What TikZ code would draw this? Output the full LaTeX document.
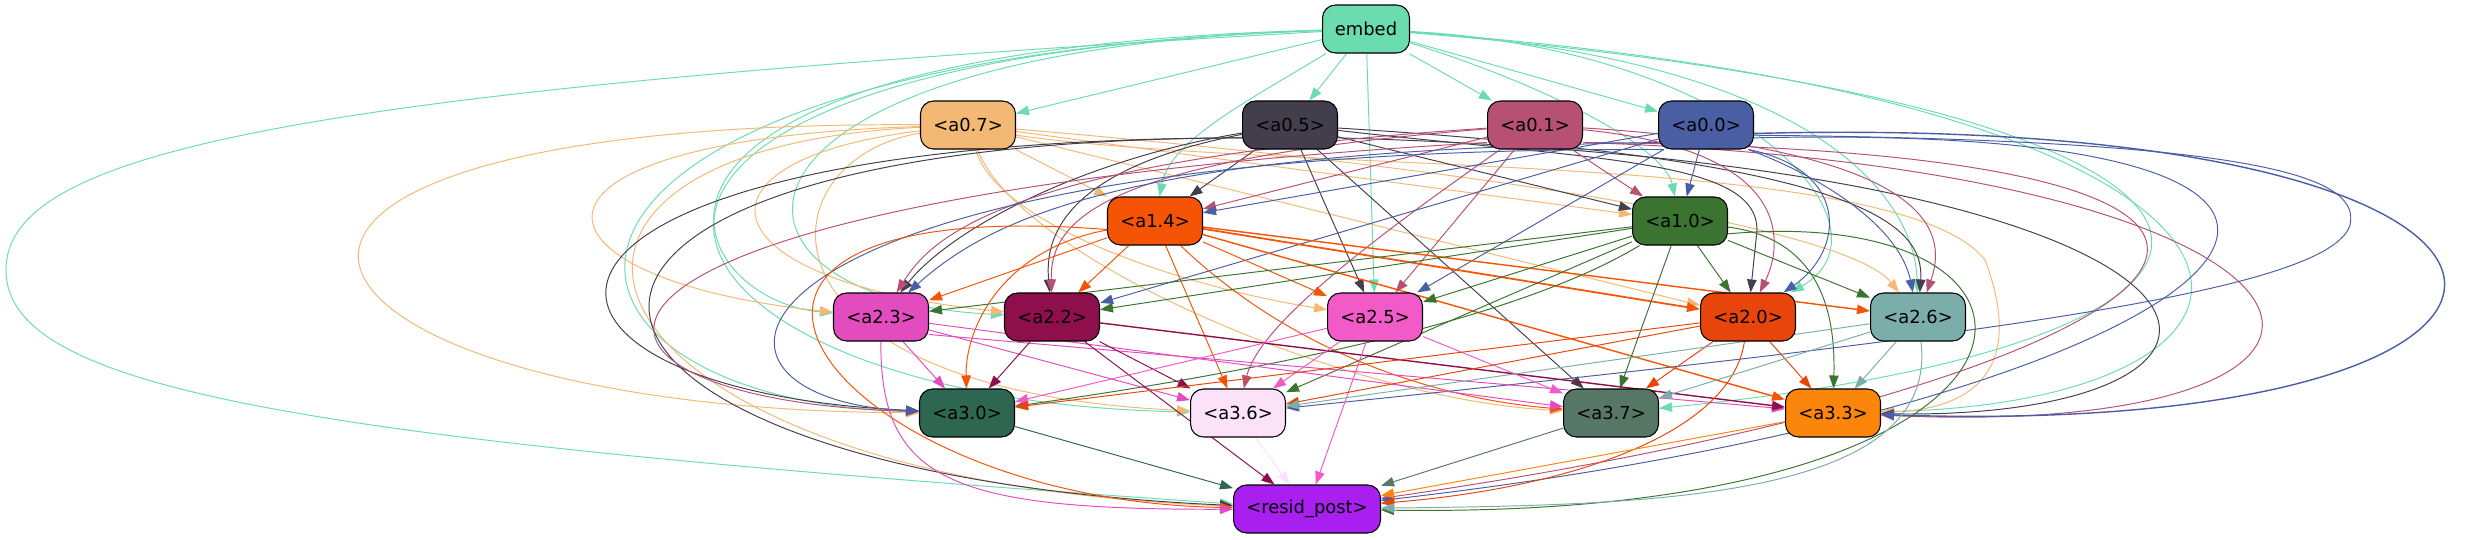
\documentclass[tikz,border=0pt]{standalone}
\usepackage{fontspec}
\setmainfont{DejaVu Sans}
\usetikzlibrary{arrows.meta,backgrounds}
\definecolor{cem}{HTML}{6BDCB0}
\definecolor{c07}{HTML}{F3B874}
\definecolor{c05}{HTML}{433E4C}
\definecolor{c01}{HTML}{B75075}
\definecolor{c00}{HTML}{4A5EA4}
\definecolor{c14}{HTML}{F45404}
\definecolor{c10}{HTML}{3A7430}
\definecolor{c23}{HTML}{E24CBF}
\definecolor{c22}{HTML}{8E0F4C}
\definecolor{c25}{HTML}{F25AC8}
\definecolor{c20}{HTML}{E7450B}
\definecolor{c26}{HTML}{7BAEAA}
\definecolor{c30}{HTML}{2D6651}
\definecolor{c36}{HTML}{FBE2F8}
\definecolor{c37}{HTML}{577766}
\definecolor{c33}{HTML}{FB860B}
\definecolor{cres}{HTML}{A91FF0}

\begin{document}
\begin{tikzpicture}
[x=0.02cm,y=-0.02cm,
>={Triangle[length=0.26cm,width=0.19cm]},
unit/.style={draw=black,line width=0.6pt,rounded corners=0.26cm,minimum width=1.9cm,minimum height=0.96cm,inner sep=0pt,font=\fontsize{10.2}{12}\selectfont},
wire/.style={->,line width=0.55pt},
fromem/.style={wire,draw=cem},
from07/.style={wire,draw=c07},
from05/.style={wire,draw=c05},
from01/.style={wire,draw=c01},
from00/.style={wire,draw=c00},
from14/.style={wire,draw=c14},
from10/.style={wire,draw=c10},
from23/.style={wire,draw=c23},
from22/.style={wire,draw=c22},
from25/.style={wire,draw=c25},
from20/.style={wire,draw=c20},
from26/.style={wire,draw=c26},
from30/.style={wire,draw=c30},
from36/.style={wire,draw=c36},
from37/.style={wire,draw=c37},
from33/.style={wire,draw=c33}]
\useasboundingbox (0,0) rectangle (2480,539);
\node[unit,fill=cem,minimum width=1.74cm] (embed) at (1366,29) {embed};
\node[unit,fill=c07] (a07) at (968,125) {<a0.7>};
\node[unit,fill=c05] (a05) at (1290,125) {<a0.5>};
\node[unit,fill=c01] (a01) at (1535,125) {<a0.1>};
\node[unit,fill=c00] (a00) at (1706,125) {<a0.0>};
\node[unit,fill=c14] (a14) at (1155,221) {<a1.4>};
\node[unit,fill=c10] (a10) at (1680,221) {<a1.0>};
\node[unit,fill=c23] (a23) at (881,317) {<a2.3>};
\node[unit,fill=c22] (a22) at (1052,317) {<a2.2>};
\node[unit,fill=c25] (a25) at (1375,317) {<a2.5>};
\node[unit,fill=c20] (a20) at (1748,317) {<a2.0>};
\node[unit,fill=c26] (a26) at (1918,317) {<a2.6>};
\node[unit,fill=c30] (a30) at (967,413) {<a3.0>};
\node[unit,fill=c36] (a36) at (1238,413) {<a3.6>};
\node[unit,fill=c37] (a37) at (1611,413) {<a3.7>};
\node[unit,fill=c33] (a33) at (1833,413) {<a3.3>};
\node[unit,fill=cres,minimum width=2.94cm] (resid) at (1307,509) {<resid\_post>};

\begin{pgfonlayer}{background}
\fill[white] (0,0) rectangle (2480,539);
\draw[fromem] (embed) -- (a07);
\draw[fromem] (embed) -- (a05);
\draw[fromem] (embed) -- (a01);
\draw[fromem] (embed) -- (a00);
\draw[fromem] (embed) .. controls (1250,100) and (1170,140) .. (a14);
\draw[fromem] (embed) .. controls (1560,90) and (1665,150) .. (a10);
\draw[fromem] (embed) .. controls (550,50) and (680,300) .. (a23);
\draw[fromem] (embed) .. controls (680,50) and (690,300) .. (a22);
\draw[fromem] (embed) -- (a25);
\draw[fromem] (embed) .. controls (1750,50) and (1900,230) .. (a20);
\draw[fromem] (embed) .. controls (1820,60) and (1915,200) .. (a26);
\draw[fromem] (embed) .. controls (450,60) and (500,400) .. (a30);
\draw[fromem] (embed) .. controls (450,60) and (620,400) .. (a36);
\draw[fromem] (embed) .. controls (2350,110) and (2350,340) .. (a37);
\draw[fromem] (embed) .. controls (2350,100) and (2350,400) .. (a33);
\draw[fromem] (embed) .. controls (300,90) and (6,150) .. (6,270) .. controls (6,390) and (300,440) .. (resid);

\draw[from07] (a07) -- (a14);
\draw[from07] (a07) -- (a10);
\draw[from07] (a07) .. controls (480,140) and (520,280) .. (a23);
\draw[from07] (a07) .. controls (680,160) and (700,280) .. (a22);
\draw[from07] (a07) .. controls (1000,230) and (1200,290) .. (a25);
\draw[from07] (a07) -- (a20);
\draw[from07] (a07) .. controls (1500,170) and (1850,230) .. (a26);
\draw[from07] (a07) .. controls (100,120) and (250,410) .. (a30);
\draw[from07] (a07) .. controls (760,160) and (740,390) .. (a36);
\draw[from07] (a07) .. controls (1020,260) and (1350,400) .. (a37);
\draw[from07] (a07.-12) .. controls (1300,175) and (1900,150) .. (1985,260) .. controls (2030,380) and (1960,410) .. (a33);
\draw[from07] (a07) .. controls (450,150) and (560,480) .. (resid);

\draw[from05] (a05) -- (a14);
\draw[from05] (a05) -- (a10);
\draw[from05] (a05) .. controls (1080,160) and (950,230) .. (a23);
\draw[from05] (a05) .. controls (1060,170) and (1045,240) .. (a22);
\draw[from05] (a05) -- (a25);
\draw[from05] (a05) .. controls (1600,160) and (1757,160) .. (1757,230) -- (a20);
\draw[from05] (a05) .. controls (1850,160) and (1925,220) .. (a26);
\draw[from05] (a05.195) .. controls (450,140) and (470,390) .. (a30);
\draw[from05] (a05) -- (a37);
\draw[from05] (a05.-15) .. controls (2300,165) and (2320,420) .. (a33);
\draw[from05] (a05.195) .. controls (430,140) and (480,470) .. (resid);

\draw[from01] (a01) -- (a14);
\draw[from01] (a01) -- (a10);
\draw[from01] (a01) .. controls (1000,160) and (930,240) .. (a23);
\draw[from01] (a01) .. controls (1100,160) and (1050,220) .. (a22);
\draw[from01] (a01) -- (a25);
\draw[from01] (a01) .. controls (1790,150) and (1785,240) .. (a20);
\draw[from01] (a01) .. controls (1950,150) and (1945,240) .. (a26);
\draw[from01] (a01.200) .. controls (480,200) and (520,400) .. (a30);
\draw[from01] (a01) .. controls (1400,220) and (1260,320) .. (a36);
\draw[from01] (a01.-20) .. controls (2400,170) and (2450,440) .. (a33);
\draw[from01] (a01.-20) .. controls (2500,150) and (2200,380) .. (resid);

\draw[from00] (a00) -- (a14);
\draw[from00] (a00) -- (a10);
\draw[from00] (a00.200) .. controls (1150,150) and (1000,210) .. (a23);
\draw[from00] (a00) -- (a22);
\draw[from00] (a00) -- (a25);
\draw[from00] (a00.-30) .. controls (1850,170) and (1845,250) .. (a20);
\draw[from00] (a00.-30) .. controls (1830,180) and (1900,230) .. (a26);
\draw[from00] (a00.210) .. controls (700,145) and (650,400) .. (a30);
\draw[from00] (a00.-12) .. controls (2280,140) and (2360,180) .. (2350,225) .. controls (2330,290) and (2000,335) .. (a36);
\draw[from00,line width=0.8pt] (a00.-10) .. controls (2650,110) and (2650,440) .. (a33);
\draw[from00] (a00.-15) .. controls (2550,120) and (2250,400) .. (resid);

\draw[from14] (a14) -- (a23);
\draw[from14] (a14) -- (a22);
\draw[from14] (a14) -- (a25);
\draw[from14,line width=1pt] (a14) -- (a20);
\draw[from14,line width=0.8pt] (a14) -- (a26);
\draw[from14] (a14) .. controls (1000,250) and (965,330) .. (a30);
\draw[from14] (a14) -- (a36);
\draw[from14] (a14) .. controls (1300,360) and (1450,400) .. (a37);
\draw[from14,line width=0.8pt] (a14) -- (a33);
\draw[from14] (a14.190) .. controls (600,190) and (820,500) .. (resid);

\draw[from10] (a10) -- (a23);
\draw[from10] (a10) -- (a22);
\draw[from10] (a10) -- (a25);
\draw[from10] (a10) -- (a20);
\draw[from10] (a10) -- (a26);
\draw[from10] (a10) .. controls (1500,330) and (1200,380) .. (a30);
\draw[from10] (a10) -- (a36);
\draw[from10] (a10) -- (a37);
\draw[from10] (a10) .. controls (1830,240) and (1835,330) .. (a33);
\draw[from10] (a10.-15) .. controls (2100,200) and (2100,520) .. (resid);

\draw[from23] (a23) -- (a30);
\draw[from23] (a23) -- (a36);
\draw[from23] (a23) -- (a37);
\draw[from23] (a23.-20) -- (a33);
\draw[from23] (a23) .. controls (880,480) and (950,510) .. (resid);

\draw[from22] (a22) -- (a30);
\draw[from22] (a22) -- (a36);
\draw[from22,line width=0.8pt] (a22) -- (a33);
\draw[from22] (a22) -- (resid);

\draw[from25] (a25) -- (a30);
\draw[from25] (a25) -- (a36);
\draw[from25] (a25) -- (a37);
\draw[from25] (a25) -- (resid);

\draw[from20] (a20) -- (a30);
\draw[from20] (a20) -- (a36);
\draw[from20] (a20) -- (a37);
\draw[from20] (a20) -- (a33);
\draw[from20] (a20) .. controls (1730,440) and (1550,490) .. (resid);

\draw[from26] (a26) -- (a36);
\draw[from26] (a26) -- (a37);
\draw[from26] (a26) -- (a33);
\draw[from26] (a26) .. controls (1940,500) and (1650,505) .. (resid);

\draw[from30] (a30) -- (resid);
\draw[from36] (a36) -- (resid);
\draw[from37] (a37) -- (resid);
\draw[from33] (a33) -- (resid);
\end{pgfonlayer}
\end{tikzpicture}
\end{document}
